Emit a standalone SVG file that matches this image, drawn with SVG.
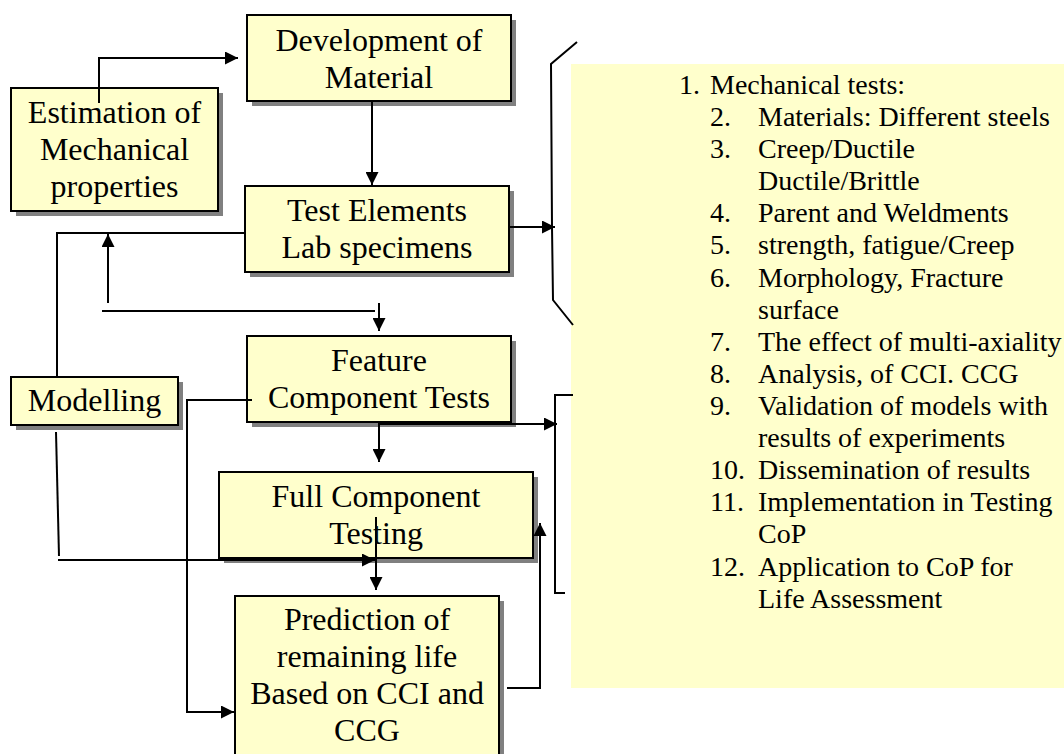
<svg xmlns="http://www.w3.org/2000/svg" width="1064" height="754" viewBox="0 0 1064 754">
<style>
.box{fill:#FFFFCC;stroke:#000;stroke-width:2}
.shadow{fill:#808080}
.t{font-family:"Liberation Serif","Times New Roman",serif;font-size:32px;fill:#000;text-anchor:middle}
.l{font-family:"Liberation Serif","Times New Roman",serif;font-size:28px;fill:#000}
.c{fill:none;stroke:#000;stroke-width:2}
.a{marker-end:url(#ah)}
</style>
<defs>
<marker id="ah" viewBox="0 0 10 10" refX="10" refY="5" markerWidth="15" markerHeight="13" markerUnits="userSpaceOnUse" orient="auto">
<path d="M0,0 L10,5 L0,10 z" fill="#000"/>
</marker>
</defs>
<rect width="1064" height="754" fill="#fff"/>
<g id="n-list">
<rect x="571" y="64" width="493" height="624" fill="#FFFFCC"/>
<text class="l" x="679" y="94">1.</text><text class="l" x="710" y="94">Mechanical tests:</text>
<text class="l" x="710" y="126">2.</text><text class="l" x="758" y="126">Materials: Different steels</text>
<text class="l" x="710" y="158">3.</text><text class="l" x="758" y="158">Creep/Ductile</text>
<text class="l" x="758" y="190">Ductile/Brittle</text>
<text class="l" x="710" y="222">4.</text><text class="l" x="758" y="222">Parent and Weldments</text>
<text class="l" x="710" y="254">5.</text><text class="l" x="758" y="254">strength, fatigue/Creep</text>
<text class="l" x="710" y="287">6.</text><text class="l" x="758" y="287">Morphology, Fracture</text>
<text class="l" x="758" y="319">surface</text>
<text class="l" x="710" y="351">7.</text><text class="l" x="758" y="351">The effect of multi-axiality</text>
<text class="l" x="710" y="383">8.</text><text class="l" x="758" y="383">Analysis, of CCI. CCG</text>
<text class="l" x="710" y="415">9.</text><text class="l" x="758" y="415">Validation of models with</text>
<text class="l" x="758" y="447">results of experiments</text>
<text class="l" x="710" y="479">10.</text><text class="l" x="758" y="479">Dissemination of results</text>
<text class="l" x="710" y="511">11.</text><text class="l" x="758" y="511">Implementation in Testing</text>
<text class="l" x="758" y="543">CoP</text>
<text class="l" x="710" y="576">12.</text><text class="l" x="758" y="576">Application to CoP for</text>
<text class="l" x="758" y="608">Life Assessment</text>
</g>
<g id="n-development">
<rect class="shadow" x="252" y="20" width="264" height="86"/>
<rect class="box" x="247" y="15" width="264" height="86"/>
<text class="t" x="379" y="51">Development of</text>
<text class="t" x="379" y="88">Material</text>
</g>
<g id="n-estimation">
<rect class="shadow" x="16" y="93" width="207" height="123"/>
<rect class="box" x="11" y="88" width="207" height="123"/>
<text class="t" x="114.5" y="123">Estimation of</text>
<text class="t" x="114.5" y="160">Mechanical</text>
<text class="t" x="114.5" y="197">properties</text>
</g>
<g id="n-test">
<rect class="shadow" x="250" y="191" width="264" height="86"/>
<rect class="box" x="245" y="186" width="264" height="86"/>
<text class="t" x="377" y="221">Test Elements</text>
<text class="t" x="377" y="258">Lab specimens</text>
</g>
<g id="n-feature">
<rect class="shadow" x="252" y="341" width="264" height="86"/>
<rect class="box" x="247" y="336" width="264" height="86"/>
<text class="t" x="379" y="371">Feature</text>
<text class="t" x="379" y="408">Component Tests</text>
</g>
<g id="n-modelling">
<rect class="shadow" x="16" y="382" width="167" height="48"/>
<rect class="box" x="11" y="377" width="167" height="48"/>
<text class="t" x="94.5" y="411">Modelling</text>
</g>
<g id="n-full">
<rect class="shadow" x="224" y="477" width="314" height="86"/>
<rect class="box" x="219" y="472" width="314" height="86"/>
<text class="t" x="376" y="507">Full Component</text>
<text class="t" x="376" y="544">Testing</text>
</g>
<g id="n-prediction">
<rect class="shadow" x="240" y="601" width="264" height="170"/>
<rect class="box" x="235" y="596" width="264" height="170"/>
<text class="t" x="367" y="630">Prediction of</text>
<text class="t" x="367" y="667">remaining life</text>
<text class="t" x="367" y="704">Based on CCI and</text>
<text class="t" x="367" y="741">CCG</text>
</g>
<g id="connectors">
<polyline class="c a" points="99,103 99,58 238,58"/>
<line class="c a" x1="372" y1="101" x2="372" y2="185"/>
<polyline class="c" points="245,233 57,233 57,377"/>
<line class="c a" x1="108" y1="303" x2="108" y2="234"/>
<line class="c" x1="102" y1="311" x2="375" y2="311"/>
<line class="c a" x1="379" y1="303" x2="379" y2="331"/>
<polyline class="c a" points="252,400 187,400 187,712 234,712"/>
<line class="c a" x1="379" y1="422" x2="379" y2="462"/>
<line class="c a" x1="379" y1="424" x2="557" y2="424"/>
<line class="c" x1="56" y1="432" x2="59" y2="556"/>
<line class="c a" x1="58" y1="560" x2="375" y2="560"/>
<line class="c a" x1="376" y1="517" x2="376" y2="590"/>
<polyline class="c a" points="507,688 540,688 540,523"/>
<line class="c a" x1="509" y1="227" x2="555" y2="227"/>
<polyline class="c" points="577,42 551,64 552,227 553,300 573,325"/>
<polyline class="c" points="573,395 555,395 555,593 565,593"/>
</g>
</svg>
